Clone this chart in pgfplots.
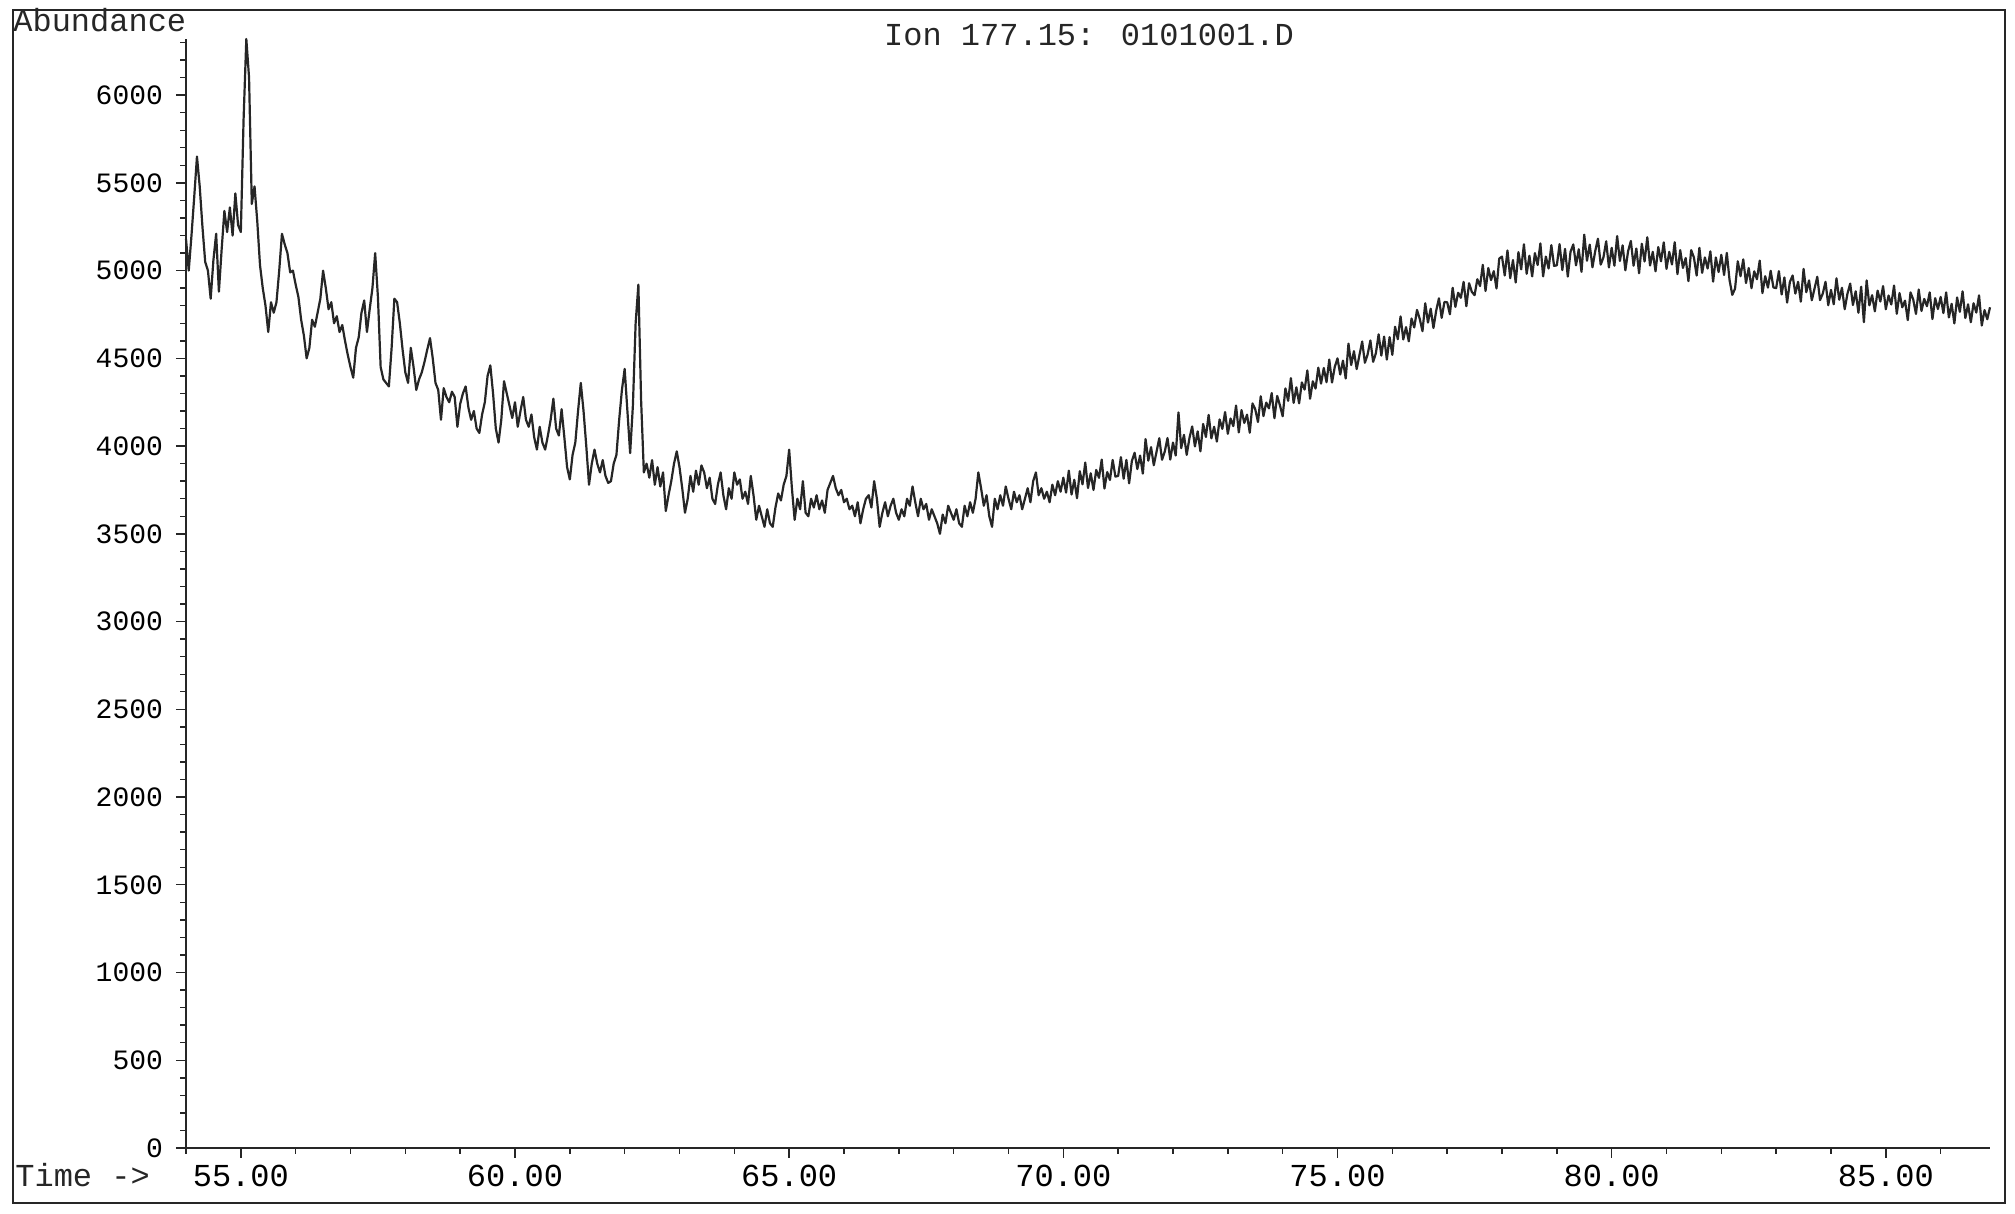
\documentclass[border=0pt]{standalone}
\usepackage{fontspec}
\setmainfont{Liberation Mono}
\setmonofont{Liberation Mono}
\usepackage{pgfplots}
\pgfplotsset{compat=1.18}
\definecolor{ink}{HTML}{262626}
\begin{document}
\begin{tikzpicture}
\path[use as bounding box] (0,0) rectangle (1007.5pt,607pt);
\draw[ink, line width=1pt] (6.5pt,5.5pt) rectangle (1002.5pt,602pt);
\begin{axis}[
  at={(93pt,33pt)}, anchor=south west,
  scale only axis, width=902pt, height=554.5pt,
  xmin=54, xmax=86.9, ymin=0, ymax=6320,
  axis x line*=bottom, axis y line*=left,
  axis line style={ink, line width=0.8pt},
  tick align=outside,
  xtick={55,60,...,85},
  xticklabels={55.00,60.00,65.00,70.00,75.00,80.00,85.00},
  minor xtick={54,...,86},
  ytick={0,500,...,6000},
  yticklabels={0,500,1000,1500,2000,2500,3000,3500,4000,4500,5000,5500,6000},
  minor ytick={0,100,...,6300},
  major tick length=5pt, minor tick length=2.8pt,
  tick style={ink, line width=0.7pt},
  xticklabel style={font=\fontsize{16}{16}\selectfont, anchor=base, yshift=-14.5pt},
  yticklabel style={font=\fontsize{14}{14}\selectfont, xshift=-3pt},
  clip=false,
]
\addplot[ink, line width=1.1pt, line join=round] coordinates {
(54.00,5180) (54.05,5000) (54.10,5200) (54.15,5420) (54.20,5650) (54.25,5480) (54.30,5250) (54.35,5050) (54.40,5000) (54.45,4840)
(54.50,5060) (54.55,5210) (54.60,4880) (54.65,5120) (54.70,5340) (54.75,5220) (54.80,5360) (54.85,5200) (54.90,5440) (54.95,5260)
(55.00,5220) (55.05,5860) (55.10,6320) (55.15,6100) (55.20,5380) (55.25,5480) (55.30,5280) (55.35,5030) (55.40,4900) (55.45,4800)
(55.50,4650) (55.55,4820) (55.60,4760) (55.65,4820) (55.70,5000) (55.75,5210) (55.80,5150) (55.85,5100) (55.90,4990) (55.95,5000)
(56.00,4920) (56.05,4850) (56.10,4720) (56.15,4630) (56.20,4500) (56.25,4560) (56.30,4720) (56.35,4680) (56.40,4760) (56.45,4840)
(56.50,5000) (56.55,4900) (56.60,4780) (56.65,4820) (56.70,4700) (56.75,4740) (56.80,4650) (56.85,4690) (56.90,4600) (56.95,4520)
(57.00,4450) (57.05,4390) (57.10,4560) (57.15,4620) (57.20,4760) (57.25,4830) (57.30,4650) (57.35,4780) (57.40,4900) (57.45,5100)
(57.50,4850) (57.55,4450) (57.60,4380) (57.65,4360) (57.70,4340) (57.75,4560) (57.80,4840) (57.85,4820) (57.90,4700) (57.95,4550)
(58.00,4420) (58.05,4360) (58.10,4560) (58.15,4450) (58.20,4320) (58.25,4380) (58.30,4420) (58.35,4480) (58.40,4550) (58.45,4615)
(58.50,4500) (58.55,4360) (58.60,4320) (58.65,4150) (58.70,4330) (58.75,4280) (58.80,4250) (58.85,4310) (58.90,4280) (58.95,4110)
(59.00,4240) (59.05,4300) (59.10,4340) (59.15,4220) (59.20,4150) (59.25,4200) (59.30,4100) (59.35,4075) (59.40,4180) (59.45,4250)
(59.50,4400) (59.55,4460) (59.60,4300) (59.65,4100) (59.70,4020) (59.75,4150) (59.80,4370) (59.85,4300) (59.90,4230) (59.95,4160)
(60.00,4250) (60.05,4110) (60.10,4200) (60.15,4280) (60.20,4150) (60.25,4110) (60.30,4180) (60.35,4050) (60.40,3980) (60.45,4110)
(60.50,4020) (60.55,3980) (60.60,4060) (60.65,4150) (60.70,4270) (60.75,4100) (60.80,4060) (60.85,4210) (60.90,4050) (60.95,3880)
(61.00,3810) (61.05,3950) (61.10,4020) (61.15,4200) (61.20,4360) (61.25,4200) (61.30,4000) (61.35,3780) (61.40,3900) (61.45,3980)
(61.50,3900) (61.55,3850) (61.60,3920) (61.65,3830) (61.70,3790) (61.75,3800) (61.80,3900) (61.85,3950) (61.90,4150) (61.95,4320)
(62.00,4440) (62.05,4200) (62.10,3960) (62.15,4230) (62.20,4700) (62.25,4920) (62.30,4260) (62.35,3850) (62.40,3900) (62.45,3820)
(62.50,3920) (62.55,3780) (62.60,3880) (62.65,3770) (62.70,3850) (62.75,3630) (62.80,3720) (62.85,3800) (62.90,3900) (62.95,3970)
(63.00,3880) (63.05,3760) (63.10,3620) (63.15,3700) (63.20,3830) (63.25,3740) (63.30,3860) (63.35,3780) (63.40,3890) (63.45,3850)
(63.50,3760) (63.55,3820) (63.60,3700) (63.65,3670) (63.70,3780) (63.75,3850) (63.80,3720) (63.85,3640) (63.90,3760) (63.95,3700)
(64.00,3850) (64.05,3780) (64.10,3810) (64.15,3700) (64.20,3740) (64.25,3670) (64.30,3830) (64.35,3720) (64.40,3580) (64.45,3660)
(64.50,3600) (64.55,3540) (64.60,3640) (64.65,3560) (64.70,3540) (64.75,3650) (64.80,3730) (64.85,3690) (64.90,3780) (64.95,3830)
(65.00,3980) (65.05,3760) (65.10,3580) (65.15,3700) (65.20,3640) (65.25,3800) (65.30,3620) (65.35,3600) (65.40,3700) (65.45,3650)
(65.50,3720) (65.55,3640) (65.60,3690) (65.65,3620) (65.70,3750) (65.75,3790) (65.80,3830) (65.85,3760) (65.90,3720) (65.95,3750)
(66.00,3680) (66.05,3700) (66.10,3640) (66.15,3660) (66.20,3600) (66.25,3680) (66.30,3560) (66.35,3640) (66.40,3700) (66.45,3720)
(66.50,3650) (66.55,3800) (66.60,3700) (66.65,3540) (66.70,3620) (66.75,3680) (66.80,3600) (66.85,3660) (66.90,3700) (66.95,3620)
(67.00,3580) (67.05,3640) (67.10,3600) (67.15,3700) (67.20,3660) (67.25,3770) (67.30,3680) (67.35,3600) (67.40,3700) (67.45,3640)
(67.50,3670) (67.55,3580) (67.60,3640) (67.65,3600) (67.70,3560) (67.75,3500) (67.80,3610) (67.85,3560) (67.90,3660) (67.95,3620)
(68.00,3580) (68.05,3640) (68.10,3560) (68.15,3540) (68.20,3660) (68.25,3600) (68.30,3680) (68.35,3620) (68.40,3700) (68.45,3850)
(68.50,3760) (68.55,3660) (68.60,3720) (68.65,3600) (68.70,3540) (68.75,3700) (68.80,3640) (68.85,3720) (68.90,3660) (68.95,3770)
(69.00,3700) (69.05,3640) (69.10,3740) (69.15,3680) (69.20,3720) (69.25,3640) (69.30,3700) (69.35,3760) (69.40,3680) (69.45,3800)
(69.50,3850) (69.55,3720) (69.60,3760) (69.65,3700) (69.70,3740) (69.75,3680) (69.80,3780) (69.85,3720) (69.90,3800) (69.95,3740)
(70.00,3820) (70.05,3735) (70.10,3860) (70.15,3724) (70.20,3808) (70.25,3703) (70.30,3857) (70.35,3782) (70.40,3906) (70.45,3761)
(70.50,3845) (70.55,3750) (70.60,3864) (70.65,3819) (70.70,3923) (70.75,3758) (70.80,3852) (70.85,3807) (70.90,3921) (70.95,3826)
(71.00,3830) (71.05,3937) (71.10,3814) (71.15,3921) (71.20,3788) (71.25,3915) (71.30,3962) (71.35,3869) (71.40,3946) (71.45,3843)
(71.50,4040) (71.55,3917) (71.60,3994) (71.65,3891) (71.70,3968) (71.75,4045) (71.80,3922) (71.85,3969) (71.90,4046) (71.95,3923)
(72.00,4020) (72.05,3946) (72.10,4192) (72.15,3988) (72.20,4064) (72.25,3950) (72.30,4046) (72.35,4112) (72.40,3998) (72.45,4084)
(72.50,3970) (72.55,4126) (72.60,4052) (72.65,4178) (72.70,4044) (72.75,4110) (72.80,4026) (72.85,4152) (72.90,4098) (72.95,4194)
(73.00,4070) (73.05,4157) (73.10,4114) (73.15,4231) (73.20,4078) (73.25,4205) (73.30,4132) (73.35,4179) (73.40,4076) (73.45,4243)
(73.50,4210) (73.55,4137) (73.60,4284) (73.65,4171) (73.70,4248) (73.75,4215) (73.80,4302) (73.85,4159) (73.90,4286) (73.95,4233)
(74.00,4170) (74.05,4329) (74.10,4258) (74.15,4387) (74.20,4246) (74.25,4335) (74.30,4244) (74.35,4363) (74.40,4322) (74.45,4431)
(74.50,4270) (74.55,4369) (74.60,4328) (74.65,4447) (74.70,4356) (74.75,4445) (74.80,4364) (74.85,4493) (74.90,4362) (74.95,4451)
(75.00,4500) (75.05,4408) (75.10,4487) (75.15,4385) (75.20,4584) (75.25,4462) (75.30,4541) (75.35,4439) (75.40,4518) (75.45,4596)
(75.50,4475) (75.55,4523) (75.60,4602) (75.65,4480) (75.70,4529) (75.75,4637) (75.80,4516) (75.85,4624) (75.90,4493) (75.95,4621)
(76.00,4520) (76.05,4680) (76.10,4609) (76.15,4739) (76.20,4608) (76.25,4678) (76.30,4597) (76.35,4727) (76.40,4676) (76.45,4776)
(76.50,4725) (76.55,4655) (76.60,4814) (76.65,4704) (76.70,4783) (76.75,4673) (76.80,4772) (76.85,4842) (76.90,4731) (76.95,4821)
(77.00,4820) (77.05,4751) (77.10,4902) (77.15,4793) (77.20,4874) (77.25,4845) (77.30,4936) (77.35,4797) (77.40,4928) (77.45,4879)
(77.50,4860) (77.55,4951) (77.60,4912) (77.65,5033) (77.70,4884) (77.75,5015) (77.80,4946) (77.85,4997) (77.90,4898) (77.95,5069)
(78.00,5080) (78.05,4972) (78.10,5115) (78.15,4957) (78.20,5060) (78.25,4932) (78.30,5105) (78.35,5007) (78.40,5150) (78.45,4982)
(78.50,5085) (78.55,4967) (78.60,5100) (78.65,5032) (78.70,5155) (78.75,4967) (78.80,5080) (78.85,5012) (78.90,5145) (78.95,5027)
(79.00,5030) (79.05,5151) (79.10,5003) (79.15,5124) (79.20,4966) (79.25,5107) (79.30,5149) (79.35,5030) (79.40,5122) (79.45,4993)
(79.50,5205) (79.55,5056) (79.60,5148) (79.65,5019) (79.70,5111) (79.75,5182) (79.80,5034) (79.85,5075) (79.90,5167) (79.95,5018)
(80.00,5130) (80.05,5028) (80.10,5197) (80.15,5055) (80.20,5144) (80.25,5002) (80.30,5111) (80.35,5169) (80.40,5028) (80.45,5126)
(80.50,4985) (80.55,5153) (80.60,5052) (80.65,5190) (80.70,5029) (80.75,5107) (80.80,4996) (80.85,5134) (80.90,5053) (80.95,5161)
(81.00,5010) (81.05,5107) (81.10,5035) (81.15,5162) (81.20,4980) (81.25,5117) (81.30,5015) (81.35,5072) (81.40,4940) (81.45,5117)
(81.50,5075) (81.55,4972) (81.60,5130) (81.65,4987) (81.70,5075) (81.75,5012) (81.80,5110) (81.85,4937) (81.90,5075) (81.95,4992)
(82.00,5090) (82.05,4975) (82.10,5101) (82.15,4946) (82.20,4862) (82.25,4897) (82.30,5053) (82.35,4968) (82.40,5064) (82.45,4929)
(82.50,5015) (82.55,4900) (82.60,4996) (82.65,4951) (82.70,5057) (82.75,4872) (82.80,4968) (82.85,4903) (82.90,4999) (82.95,4904)
(83.00,4900) (83.05,4997) (83.10,4864) (83.15,4961) (83.20,4818) (83.25,4935) (83.30,4972) (83.35,4869) (83.40,4936) (83.45,4823)
(83.50,5010) (83.55,4877) (83.60,4944) (83.65,4831) (83.70,4898) (83.75,4965) (83.80,4832) (83.85,4869) (83.90,4936) (83.95,4803)
(84.00,4890) (84.05,4808) (84.10,4956) (84.15,4834) (84.20,4902) (84.25,4780) (84.30,4868) (84.35,4926) (84.40,4804) (84.45,4882)
(84.50,4760) (84.55,4908) (84.60,4706) (84.65,4944) (84.70,4802) (84.75,4860) (84.80,4768) (84.85,4886) (84.90,4824) (84.95,4912)
(85.00,4780) (85.05,4858) (85.10,4807) (85.15,4915) (85.20,4754) (85.25,4872) (85.30,4791) (85.35,4829) (85.40,4718) (85.45,4876)
(85.50,4835) (85.55,4753) (85.60,4892) (85.65,4770) (85.70,4839) (85.75,4797) (85.80,4876) (85.85,4724) (85.90,4843) (85.95,4781)
(86.00,4850) (86.05,4758) (86.10,4876) (86.15,4733) (86.20,4811) (86.25,4699) (86.30,4847) (86.35,4765) (86.40,4882) (86.45,4730)
(86.50,4808) (86.55,4706) (86.60,4814) (86.65,4761) (86.70,4859) (86.75,4687) (86.80,4775) (86.85,4723) (86.90,4791)
};
\end{axis}
\node[anchor=base west, inner sep=0pt, font=\fontsize{16}{16}\selectfont, text=ink] at (7.5pt,13.5pt) {Time ->};
\node[anchor=base west, inner sep=0pt, font=\fontsize{16}{16}\selectfont, text=ink] at (6.5pt,591pt) {Abundance};
\node[anchor=base, inner sep=0pt, font=\fontsize{16}{16}\selectfont, text=ink] at (544.5pt,584pt) {Ion 177.15: 0101001.D};
\end{tikzpicture}
\end{document}
